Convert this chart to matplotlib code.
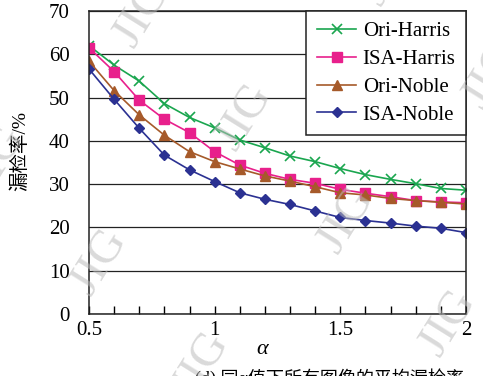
import matplotlib
matplotlib.use("Agg")
from matplotlib import pyplot as plt

plt.rcParams['font.family'] = ['Liberation Serif', 'Noto Sans CJK SC', 'DejaVu Sans']

# alpha values and average miss rates (%)
alpha = [0.5, 0.6, 0.7, 0.8, 0.9, 1.0, 1.1, 1.2, 1.3, 1.4, 1.5, 1.6, 1.7, 1.8, 1.9, 2.0]
ori_harris = [62.0, 57.5, 53.8, 48.6, 45.4, 43.0, 40.2, 38.4, 36.5, 35.2, 33.6, 32.2, 31.1, 30.1, 29.0, 28.6]
isa_harris = [61.5, 56.0, 49.4, 45.0, 41.9, 37.5, 34.4, 32.5, 31.1, 30.2, 28.8, 27.9, 27.1, 26.2, 25.9, 25.7]
ori_noble = [58.4, 51.6, 46.0, 41.3, 37.5, 35.2, 33.5, 31.9, 30.7, 29.4, 28.0, 27.5, 26.7, 26.2, 25.8, 25.4]
isa_noble = [56.6, 49.6, 42.9, 36.7, 33.3, 30.6, 28.0, 26.5, 25.3, 23.8, 22.3, 21.6, 21.0, 20.3, 19.8, 18.8]

x_ticks = [0.5, 1, 1.5, 2]
x_tick_labels = ['0.5', '1', '1.5', '2']
y_ticks = [0, 10, 20, 30, 40, 50, 60, 70]

fig = plt.figure(figsize=(4.83, 3.76), dpi=100)
ax = fig.add_axes([0.1843, 0.1649, 0.7805, 0.8058])

ax.plot(alpha, ori_harris, color='#1aa64f', marker='x', markersize=7, mew=1.2, lw=1.2, label='Ori-Harris')
ax.plot(alpha, isa_harris, color='#e8208c', marker='s', markersize=7, lw=1.2, label='ISA-Harris')
ax.plot(alpha, ori_noble, color='#a65a2a', marker='^', markersize=7.5, lw=1.2, label='Ori-Noble')
ax.plot(alpha, isa_noble, color='#2b3192', marker='D', markersize=5.5, lw=1.2, label='ISA-Noble')

ax.set_xlim(0.5, 2)
ax.set_ylim(0, 70)
ax.set_xticks(x_ticks)
ax.set_xticklabels(x_tick_labels)
ax.set_xticks([v / 10 for v in range(5, 21)], minor=True)
ax.set_yticks(y_ticks)
ax.tick_params(axis='x', which='both', direction='in', length=6, width=1, labelsize=15, pad=5)
ax.tick_params(axis='y', length=0, labelsize=15, pad=14)
ax.yaxis.grid(True, color='#222222', lw=0.9)
ax.set_axisbelow(True)
for s in ax.spines.values():
    s.set_linewidth(1.1)
    s.set_color('#222222')

leg = ax.legend(loc='upper right', borderaxespad=0, fontsize=15, handlelength=1.9,
                handletextpad=0.3, labelspacing=0.4, fancybox=False, framealpha=1,
                edgecolor='#222222', borderpad=0.5)
leg.get_frame().set_linewidth(1.1)

fig.text(262 / 483, 1 - 350 / 376, 'α', fontsize=16, style='italic', ha='center', va='center')
fig.text(20 / 483, 1 - 151 / 376, '漏检率/%', fontsize=14, rotation=90, ha='center', va='center')
fig.text(195 / 483, 1 - 368 / 376, '(d) 同α值下所有图像的平均漏检率', fontsize=13, ha='left', va='top')

# JIG watermark
marks = [(143, 14), (245, 117), (347, 220), (449, 323), (100, 262), (202, 365),
         (390, -28), (492, 75), (-2, 159)]
for mx, my in marks:
    fig.text(mx / 483, 1 - my / 376, 'JIG', fontsize=34, color='#bbbbbb', alpha=0.55,
             rotation=58, ha='center', va='center', zorder=10)

fig.savefig('out.png', dpi=100)
